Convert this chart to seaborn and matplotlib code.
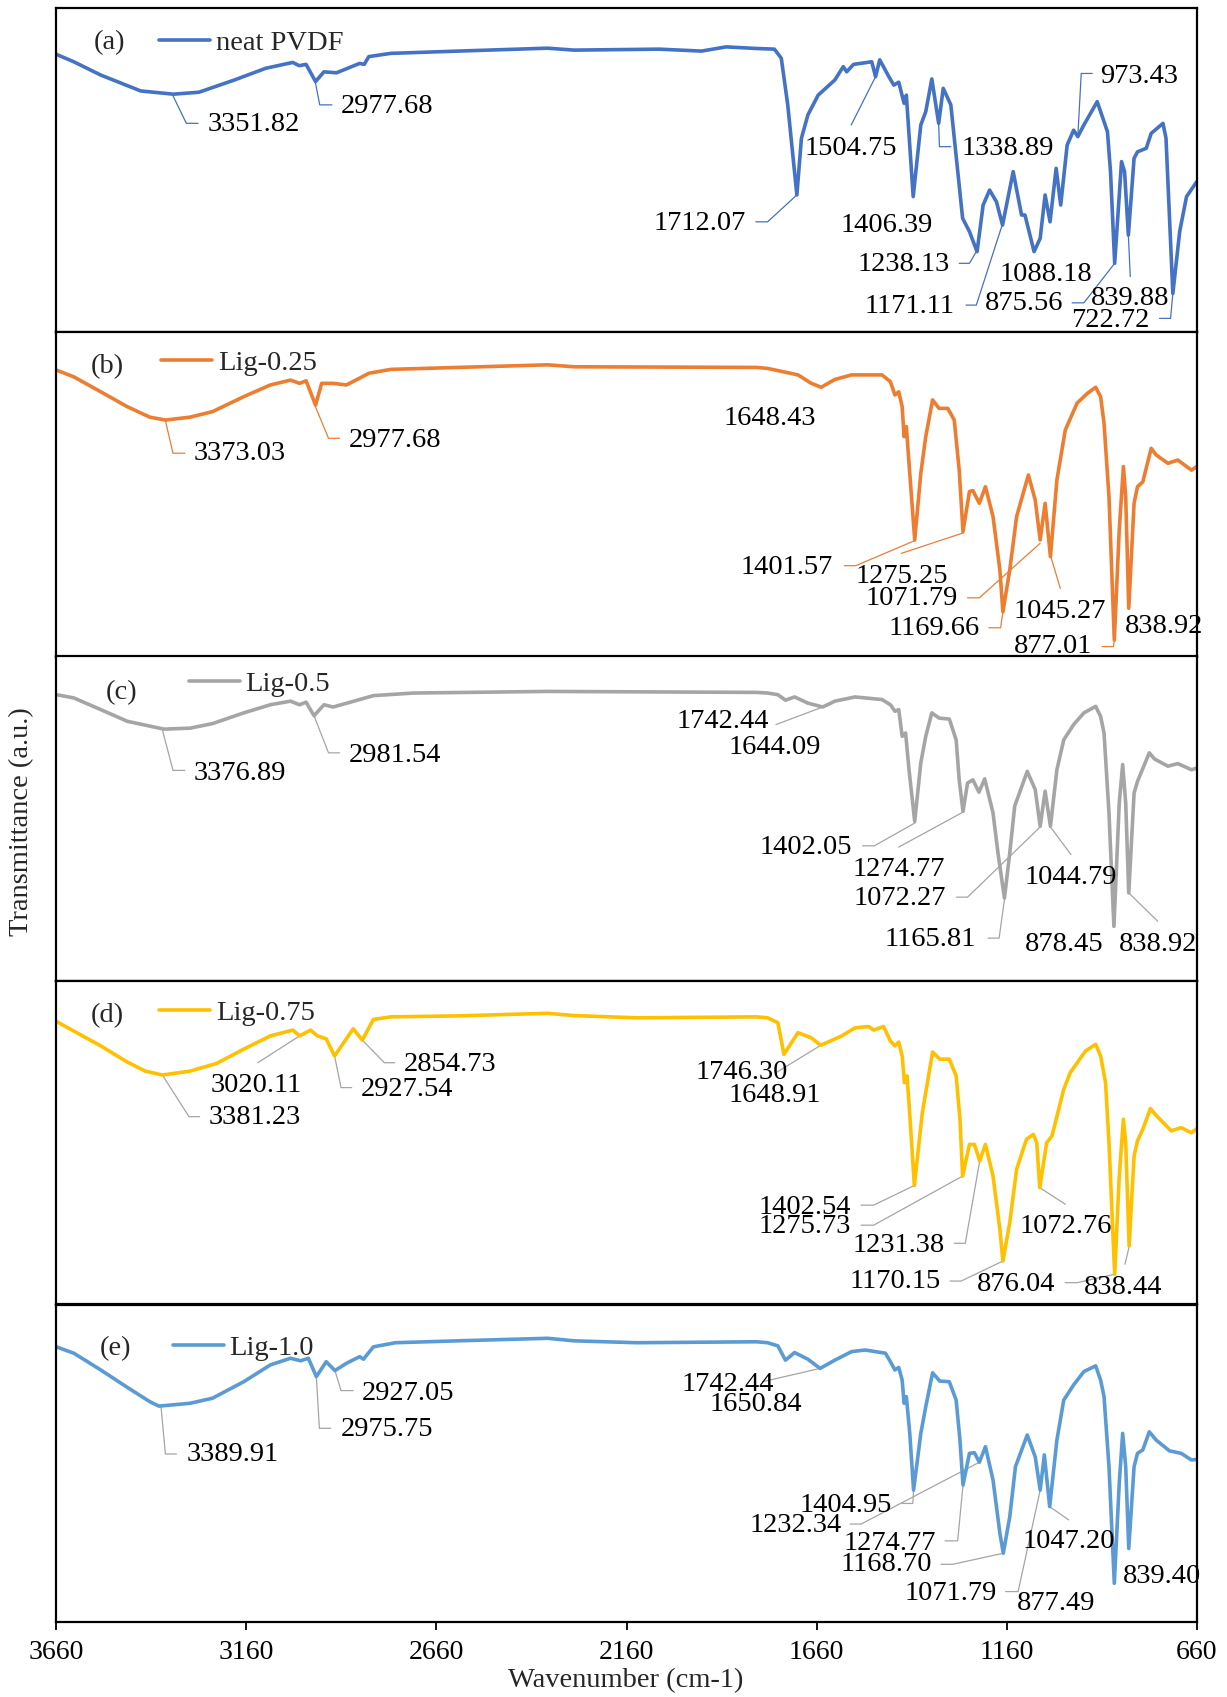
import matplotlib
matplotlib.use("Agg")
import matplotlib.pyplot as plt
import pandas as pd
import seaborn as sns

sns.set_style("white")
plt.rcParams["font.family"] = ["Liberation Serif", "DejaVu Serif"]

# ---------------- data (wavenumber cm-1, transmittance a.u.) ----------------
wn_neat = [3660, 3614, 3543, 3438, 3352, 3285, 3191, 3109, 3038, 3021, 3003, 2978, 2956, 2923,
           2862, 2850, 2838, 2780, 2603, 2368, 2298, 2074, 1963, 1898, 1818, 1771, 1753, 1736,
           1712, 1700, 1683, 1656, 1612, 1590, 1581, 1563, 1515, 1505, 1494, 1470, 1457, 1444,
           1430, 1424, 1406, 1386, 1373, 1357, 1339, 1327, 1307, 1276, 1258, 1238, 1222, 1205,
           1187, 1171, 1143, 1121, 1112, 1088, 1072, 1059, 1046, 1030, 1018, 1001, 984, 973,
           957, 922, 895, 887, 876, 858, 850, 840, 825, 816, 793, 780, 749, 741, 723, 705, 687, 660]
t_neat = [85.7, 83.4, 79.3, 74.4, 73.4, 74.0, 77.8, 81.4, 83.2, 82.2, 82.6, 77.3, 80.3, 80.0,
          82.9, 82.6, 85.0, 86.0, 86.7, 87.6, 87.0, 87.3, 86.7, 88.0, 87.5, 87.3, 84.5, 70.1,
          42.3, 59.8, 67.0, 73.1, 77.8, 81.9, 80.3, 82.6, 83.4, 78.8, 84.0, 78.8, 76.2, 77.1,
          70.6, 73.1, 41.8, 63.9, 68.0, 78.1, 64.4, 75.2, 70.1, 35.1, 31.0, 24.8, 39.2, 43.8,
          40.2, 33.0, 49.5, 36.1, 36.1, 24.8, 28.9, 42.3, 34.0, 50.5, 39.2, 57.7, 62.3, 60.3,
          63.9, 71.1, 61.8, 49.5, 21.2, 52.6, 49.5, 29.9, 53.6, 55.6, 56.7, 61.3, 64.4, 59.8,
          11.9, 31.0, 41.8, 46.4]

wn_lig025 = [3660, 3614, 3543, 3473, 3414, 3373, 3308, 3249, 3167, 3097, 3044, 3020, 3003, 2978,
             2962, 2932, 2897, 2862, 2838, 2780, 2603, 2368, 2298, 1818, 1789, 1709, 1674, 1648,
             1612, 1568, 1488, 1466, 1454, 1444, 1435, 1430, 1424, 1417, 1402, 1386, 1373, 1355,
             1338, 1315, 1298, 1285, 1275, 1258, 1249, 1232, 1216, 1196, 1178, 1170, 1152, 1134,
             1103, 1085, 1072, 1059, 1045, 1028, 1006, 975, 948, 926, 913, 904, 891, 877, 864,
             853, 847, 839, 825, 816, 802, 780, 767, 736, 710, 674, 660]
t_lig025 = [88.3, 86.2, 81.6, 77.0, 73.8, 72.9, 73.8, 75.5, 80.1, 83.7, 85.2, 84.2, 85.0, 77.5,
            84.2, 84.2, 83.7, 85.8, 87.3, 88.5, 89.1, 89.9, 89.3, 89.1, 88.8, 86.8, 84.2, 83.0,
            85.4, 86.8, 86.8, 84.7, 80.6, 81.6, 77.0, 67.8, 70.9, 59.6, 36.0, 56.5, 67.8, 79.1,
            76.5, 76.5, 72.9, 57.5, 38.6, 50.9, 51.2, 47.3, 52.4, 43.2, 26.8, 13.9, 26.8, 43.2,
            56.0, 48.3, 36.0, 47.3, 30.9, 54.5, 69.8, 78.1, 81.1, 83.0, 80.1, 71.9, 49.3, 5.2,
            39.1, 58.6, 49.3, 15.0, 47.3, 52.4, 53.9, 64.2, 62.2, 59.6, 60.6, 57.5, 58.6]

wn_lig05 = [3660, 3614, 3543, 3473, 3377, 3308, 3249, 3167, 3097, 3044, 3020, 3003, 2982, 2956,
            2932, 2862, 2826, 2721, 2368, 1818, 1789, 1762, 1742, 1718, 1683, 1644, 1612, 1559,
            1488, 1466, 1454, 1444, 1435, 1426, 1417, 1402, 1386, 1373, 1357, 1338, 1311, 1293,
            1285, 1275, 1263, 1249, 1233, 1218, 1196, 1183, 1166, 1152, 1139, 1106, 1085, 1072,
            1059, 1045, 1028, 1010, 984, 957, 926, 913, 904, 891, 878, 864, 855, 847, 839, 825,
            816, 785, 771, 736, 710, 674, 660]
t_lig05 = [88.1, 87.1, 83.5, 79.9, 77.5, 77.8, 79.2, 82.5, 85.0, 86.1, 85.0, 85.8, 81.6, 85.0,
           84.3, 86.6, 87.8, 88.6, 89.1, 88.8, 88.6, 88.1, 86.4, 87.4, 85.5, 84.3, 86.1, 87.4,
           86.6, 85.0, 83.0, 83.5, 75.3, 76.3, 65.0, 49.1, 67.1, 75.3, 82.5, 80.9, 80.6, 74.2,
           61.9, 52.2, 60.9, 61.9, 58.1, 62.2, 51.7, 39.4, 25.5, 39.4, 53.8, 64.5, 58.9, 47.6,
           58.4, 47.6, 65.0, 74.2, 78.9, 82.5, 84.5, 81.4, 76.3, 51.7, 16.8, 54.8, 66.6, 54.8,
           27.1, 57.8, 61.4, 70.2, 68.3, 66.1, 66.9, 65.0, 65.5]

wn_lig075 = [3660, 3614, 3543, 3473, 3426, 3381, 3308, 3238, 3167, 3097, 3038, 3020, 2991, 2973,
             2950, 2928, 2879, 2855, 2826, 2780, 2603, 2368, 2298, 2133, 1818, 1789, 1762, 1746,
             1709, 1674, 1649, 1594, 1559, 1523, 1510, 1484, 1466, 1454, 1444, 1435, 1429, 1422,
             1413, 1403, 1382, 1355, 1336, 1311, 1293, 1283, 1276, 1258, 1245, 1231, 1216, 1196,
             1178, 1170, 1152, 1134, 1108, 1090, 1081, 1073, 1055, 1041, 1010, 993, 953, 926,
             913, 900, 891, 876, 864, 853, 847, 838, 825, 816, 802, 782, 767, 727, 701, 674, 660]
t_lig075 = [87.5, 84.5, 79.9, 74.9, 72.1, 70.9, 72.1, 74.5, 78.9, 83.0, 84.8, 83.0, 84.8, 83.0,
            82.1, 76.8, 85.2, 81.7, 88.1, 88.9, 89.2, 90.0, 89.3, 88.6, 88.9, 88.6, 87.1, 77.3,
            84.0, 82.4, 80.1, 83.0, 85.5, 85.9, 84.8, 85.9, 81.4, 79.9, 81.1, 76.8, 68.5, 70.6,
            55.1, 36.7, 59.2, 78.0, 75.8, 75.8, 70.6, 57.2, 39.6, 49.4, 49.4, 44.3, 49.4, 39.6,
            23.1, 13.3, 25.2, 41.7, 51.0, 52.5, 49.9, 36.0, 49.9, 52.0, 66.5, 71.6, 78.3, 80.4,
            76.8, 68.5, 49.9, 9.2, 39.6, 57.2, 49.9, 18.0, 45.8, 50.5, 54.1, 60.5, 58.4, 53.6,
            54.6, 53.0, 54.3]

wn_lig10 = [3660, 3614, 3543, 3473, 3414, 3390, 3308, 3249, 3167, 3097, 3044, 3017, 2997, 2976,
            2950, 2927, 2897, 2862, 2852, 2826, 2768, 2603, 2368, 2298, 2133, 1818, 1789, 1762,
            1742, 1718, 1683, 1651, 1612, 1568, 1532, 1506, 1479, 1466, 1454, 1444, 1435, 1430,
            1424, 1415, 1405, 1386, 1373, 1355, 1336, 1311, 1293, 1283, 1275, 1258, 1245, 1232,
            1216, 1196, 1178, 1169, 1152, 1137, 1106, 1085, 1072, 1061, 1047, 1028, 1010, 984,
            957, 926, 913, 904, 891, 877, 864, 855, 847, 839, 825, 816, 802, 785, 767, 732, 701,
            674, 660]
t_lig10 = [86.8, 84.8, 79.5, 74.0, 69.5, 68.1, 69.0, 70.6, 75.8, 81.1, 83.2, 82.4, 83.2, 77.4,
           82.1, 79.3, 81.6, 83.7, 82.9, 86.8, 88.1, 88.7, 89.5, 88.7, 88.1, 88.4, 88.1, 87.1,
           82.6, 85.0, 82.9, 80.0, 82.6, 85.3, 85.8, 85.3, 84.8, 82.1, 79.5, 80.3, 76.3, 69.0,
           71.1, 59.5, 41.6, 59.5, 67.9, 78.6, 76.0, 75.8, 70.0, 57.4, 43.2, 53.2, 53.4, 50.4,
           55.3, 44.8, 28.0, 21.7, 33.2, 49.0, 59.0, 52.1, 41.6, 52.7, 36.4, 57.4, 70.0, 74.8,
           79.0, 80.8, 76.3, 71.1, 49.0, 12.2, 43.8, 59.5, 49.0, 23.2, 49.0, 53.2, 54.3, 60.0,
           57.4, 54.0, 53.2, 51.1, 51.3]

sample_names = ["neat PVDF", "Lig-0.25", "Lig-0.5", "Lig-0.75", "Lig-1.0"]
panel_tags = ["(a)", "(b)", "(c)", "(d)", "(e)"]
x_ticks = [3660, 3160, 2660, 2160, 1660, 1160, 660]

# peak annotations: (label, text wn, text T, alignment, leader polyline in data coords)
ann_neat = [
    ("3351.82", 3261, 63.9, "left", [(3353, 72.9), (3318, 64.4), (3287, 64.4)]),
    ("2977.68", 2912, 69.5, "left", [(2979, 77.3), (2967, 70.1), (2935, 70.1)]),
    ("1712.07", 1845, 33.5, "right", [(1712, 42.3), (1789, 34.0), (1820, 34.0)]),
    ("1504.75", 1571, 56.7, "center", [(1505, 78.8), (1569, 63.9)]),
    ("1406.39", 1477, 33.0, "center", []),
    ("1338.89", 1280, 56.7, "left", [(1339, 64.4), (1337, 57.2), (1307, 57.2)]),
    ("973.43", 913, 78.8, "left", [(973, 60.3), (964, 79.8), (935, 79.8)]),
    ("1238.13", 1311, 20.7, "right", [(1240, 24.8), (1258, 21.2), (1285, 21.2)]),
    ("1171.11", 1298, 7.8, "right", [(1172, 33.0), (1240, 8.3), (1267, 8.3)]),
    ("1088.18", 1057, 17.6, "center", []),
    ("875.56", 1012, 8.9, "right", [(876, 21.2), (957, 9.0), (988, 9.0)]),
    ("839.88", 835, 10.4, "center", [(840, 29.9), (835, 17.1)]),
    ("722.72", 785, 3.7, "right", [(723, 11.9), (729, 4.2), (758, 4.2)]),
]
ann_lig025 = [
    ("3373.03", 3299, 62.5, "left", [(3373, 72.7), (3353, 62.7), (3322, 62.7)]),
    ("2977.68", 2891, 66.5, "left", [(2979, 77.2), (2944, 67.3), (2915, 67.3)]),
    ("1648.43", 1782, 73.4, "center", []),
    ("1401.57", 1616, 27.6, "right", [(1402, 35.8), (1557, 28.1), (1587, 28.1)]),
    ("1275.25", 1437, 24.7, "center", [(1274, 38.2), (1437, 31.9)]),
    ("1071.79", 1289, 18.1, "right", [(1072, 35.0), (1232, 18.2), (1263, 18.2)]),
    ("1169.66", 1232, 8.8, "right", [(1170, 13.9), (1176, 9.0), (1207, 9.0)]),
    ("1045.27", 1021, 13.9, "center", [(1044, 30.9), (1019, 21.1)]),
    ("877.01", 935, 3.2, "right", [(877, 5.2), (879, 3.2), (909, 3.2)]),
    ("838.92", 746, 9.3, "center", []),
]
ann_lig05 = [
    ("3376.89", 3299, 63.8, "left", [(3381, 77.3), (3353, 64.8), (3322, 64.8)]),
    ("2981.54", 2891, 69.3, "left", [(2982, 81.6), (2944, 70.2), (2915, 70.2)]),
    ("1742.44", 1784, 79.9, "right", [(1644, 84.3), (1767, 78.9)]),
    ("1644.09", 1769, 71.7, "center", []),
    ("1402.05", 1568, 41.1, "right", [(1402, 48.6), (1508, 41.6), (1539, 41.6)]),
    ("1274.77", 1445, 34.2, "center", [(1276, 51.9), (1444, 41.2)]),
    ("1072.27", 1320, 25.5, "right", [(1072, 47.4), (1263, 25.8), (1292, 25.8)]),
    ("1165.81", 1240, 12.9, "right", [(1166, 25.0), (1180, 13.2), (1209, 13.2)]),
    ("1044.79", 991, 31.7, "center", [(1045, 47.4), (991, 38.9)]),
    ("878.45", 1008, 11.2, "center", []),
    ("838.92", 763, 11.2, "center", [(839, 27.1), (763, 18.4)]),
]
ann_lig075 = [
    ("3381.23", 3259, 57.7, "left", [(3381, 70.9), (3311, 58.0), (3283, 58.0)]),
    ("3020.11", 3135, 67.5, "center", [(3020, 83.0), (3130, 74.7)]),
    ("2927.54", 2859, 66.5, "left", [(2928, 76.8), (2911, 67.0), (2883, 67.0)]),
    ("2854.73", 2747, 74.2, "left", [(2855, 81.7), (2797, 74.7), (2770, 74.7)]),
    ("1746.30", 1736, 71.6, "right", [(1649, 80.1), (1767, 71.6)]),
    ("1648.91", 1771, 64.4, "center", []),
    ("1402.54", 1569, 29.8, "right", [(1403, 36.7), (1510, 30.6), (1543, 30.6)]),
    ("1275.73", 1569, 23.9, "right", [(1276, 39.6), (1510, 24.4), (1543, 24.4)]),
    ("1231.38", 1324, 18.0, "right", [(1231, 44.3), (1269, 18.8), (1298, 18.8)]),
    ("1170.15", 1333, 7.1, "right", [(1170, 13.3), (1280, 7.1), (1309, 7.1)]),
    ("876.04", 1032, 6.1, "right", [(876, 9.2), (975, 6.6), (1006, 6.6)]),
    ("838.44", 853, 5.0, "center", [(838, 17.7), (849, 12.3)]),
    ("1072.76", 1004, 24.1, "center", [(1073, 36.0), (1006, 30.9)]),
]
ann_lig10 = [
    ("3389.91", 3318, 52.7, "left", [(3385, 68.5), (3373, 53.0), (3344, 53.0)]),
    ("2975.75", 2911, 60.6, "left", [(2976, 77.4), (2968, 61.1), (2938, 61.1)]),
    ("2927.05", 2856, 72.1, "left", [(2927, 79.3), (2911, 73.0), (2879, 73.0)]),
    ("1742.44", 1771, 74.8, "right", [(1651, 80.0), (1802, 75.8)]),
    ("1650.84", 1819, 68.5, "center", []),
    ("1404.95", 1463, 36.9, "right", [(1405, 41.6), (1407, 37.4), (1435, 37.4)]),
    ("1232.34", 1594, 30.3, "right", [(1232, 50.4), (1543, 30.9), (1572, 30.9)]),
    ("1274.77", 1346, 24.8, "right", [(1275, 43.2), (1289, 25.6), (1322, 25.6)]),
    ("1168.70", 1357, 18.0, "right", [(1169, 21.7), (1302, 18.2), (1333, 18.2)]),
    ("1071.79", 1187, 9.1, "right", [(1072, 41.6), (1130, 9.6), (1163, 9.6)]),
    ("877.49", 1029, 5.9, "center", []),
    ("1047.20", 996, 25.3, "center", [(1047, 36.4), (997, 32.2)]),
    ("839.40", 751, 14.5, "center", []),
]

# ---------------- styles / layout ----------------
line_colors = ["#4472C4", "#ED7D31", "#A5A5A5", "#FFC000", "#5B9BD5"]
leader_colors = ["#4472C4", "#ED7D31", "#A5A5A5", "#A5A5A5", "#A5A5A5"]
W, H = 1227, 1697
panel_px = [(8, 332), (332, 657), (656, 981), (981, 1304), (1305, 1622)]
legend_anchor = [(0.090, 0.892), (0.092, 0.905), (0.116, 0.914), (0.090, 0.901), (0.102, 0.864)]
tag_pos = [(0.047, 0.892), (0.045, 0.893), (0.057, 0.886), (0.045, 0.892), (0.052, 0.864)]
FS = 20.5

fig = plt.figure(figsize=(W / 100, H / 100), dpi=100)
left_px, right_px = 56.3, 1196.8

series = [(wn_neat, t_neat, ann_neat), (wn_lig025, t_lig025, ann_lig025),
          (wn_lig05, t_lig05, ann_lig05), (wn_lig075, t_lig075, ann_lig075),
          (wn_lig10, t_lig10, ann_lig10)]

for i, (wn, tr, ann) in enumerate(series):
    top, bot = panel_px[i]
    ax = fig.add_axes([left_px / W, 1 - bot / H, (right_px - left_px) / W, (bot - top) / H])
    df = pd.DataFrame({"Wavenumber": wn, "Transmittance": tr})
    sns.lineplot(data=df, x="Wavenumber", y="Transmittance", ax=ax, color=line_colors[i],
                 lw=2.6, estimator=None, sort=False, label=sample_names[i])
    ax.lines[0].set_solid_joinstyle("round")
    ax.set_xlim(3660, 660)
    ax.set_ylim(0, 100)
    ax.set_xlabel("")
    ax.set_ylabel("")
    ax.set_yticks([])
    for sp in ax.spines.values():
        sp.set_color("black")
        sp.set_linewidth(1.6)
    if i < 4:
        ax.set_xticks([])
    else:
        ax.set_xticks(x_ticks)
        ax.set_xticklabels([str(v) for v in x_ticks])
        ax.tick_params(axis="x", bottom=True, direction="out", length=6, width=1.3,
                       labelsize=20, pad=7, colors="black")
    leg = ax.legend(loc="center left", bbox_to_anchor=legend_anchor[i], frameon=False,
                    handlelength=1.8, handletextpad=0.2, borderpad=0, borderaxespad=0,
                    fontsize=FS)
    ax.text(tag_pos[i][0], tag_pos[i][1], panel_tags[i], transform=ax.transAxes,
            fontsize=FS, ha="center", va="center")
    for label, tx, ty, ha, pts in ann:
        if pts:
            ax.plot([p[0] for p in pts], [p[1] for p in pts], color=leader_colors[i],
                    lw=0.9, clip_on=False, zorder=1)
        ax.text(tx, ty, label, ha=ha, va="center", fontsize=FS, color="black")

fig.text(22 / W, 1 - 822 / H, "Transmittance (a.u.)", rotation=90, ha="center",
         va="center", fontsize=FS)
fig.text(626 / W, 1 - 1681 / H, "Wavenumber (cm-1)", ha="center", va="center", fontsize=FS)

fig.savefig("out.png", dpi=100)
